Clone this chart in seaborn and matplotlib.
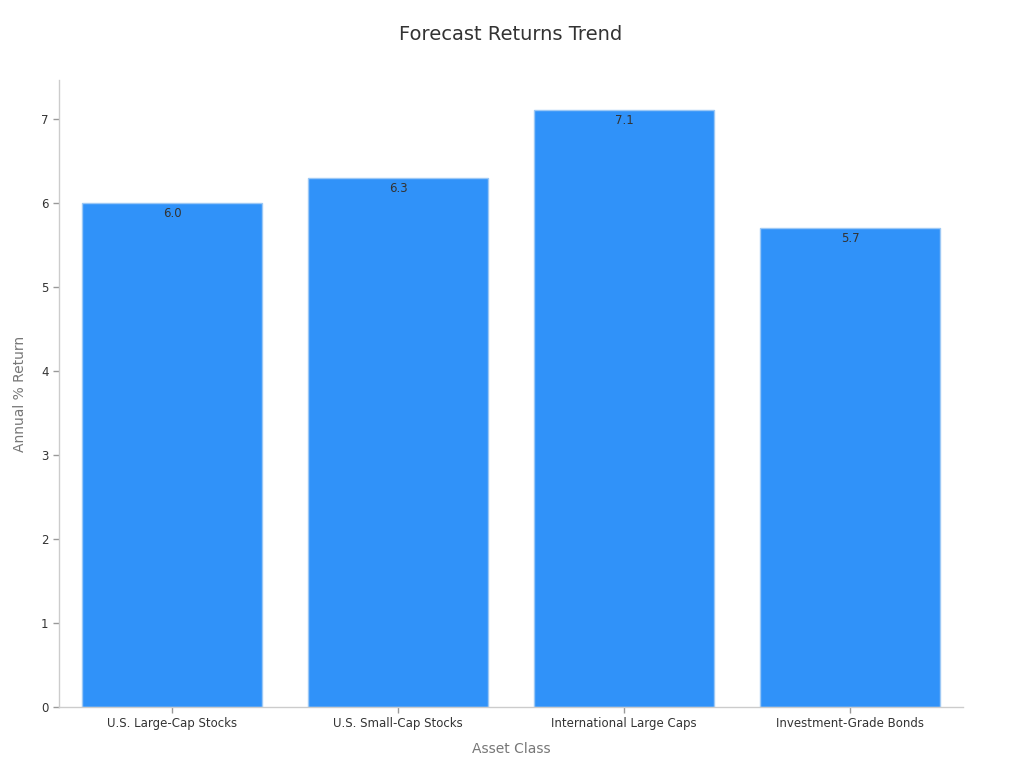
import matplotlib
matplotlib.use("Agg")
import matplotlib.pyplot as plt
import pandas as pd
import seaborn as sns

# data
assets = ["U.S. Large-Cap Stocks", "U.S. Small-Cap Stocks", "International Large Caps", "Investment-Grade Bonds"]
returns = [6.0, 6.3, 7.1, 5.7]

df = pd.DataFrame({"asset": assets, "ret": returns})

sns.set_style("white")
plt.rcParams['font.family'] = ['DejaVu Sans']

fig = plt.figure(figsize=(10.24, 7.68), dpi=100)
ax = fig.add_axes([0.0576, 0.0794, 0.8828, 0.8164])

sns.barplot(df, x="asset", y="ret", color="#3092F9", saturation=1, width=0.8,
            edgecolor="#9cc8f5", linewidth=1, ax=ax)

# value labels just inside the top of each bar
for i, v in enumerate(returns):
    ax.text(i, v - 0.05, f"{v:.1f}", ha="center", va="top", fontsize=8.5, color="#333333")

ax.set_xlim(-0.5, 3.5)
ax.set_ylim(0, 7.46)
ax.set_yticks(range(0, 8))
ax.set_title("Forecast Returns Trend", fontsize=14, color="#333333", pad=29)
ax.set_xlabel("Asset Class", fontsize=10, color="#777777", labelpad=8)
ax.set_ylabel("Annual % Return", fontsize=10, color="#777777", labelpad=10)
ax.tick_params(axis="both", labelsize=8.5, colors="#333333", length=4, color="#999999", width=1, left=True, bottom=True)
sns.despine(ax=ax)
for s in ["left", "bottom"]:
    ax.spines[s].set_color("#cccccc")
    ax.spines[s].set_linewidth(1)

fig.savefig("out.png", dpi=100)
